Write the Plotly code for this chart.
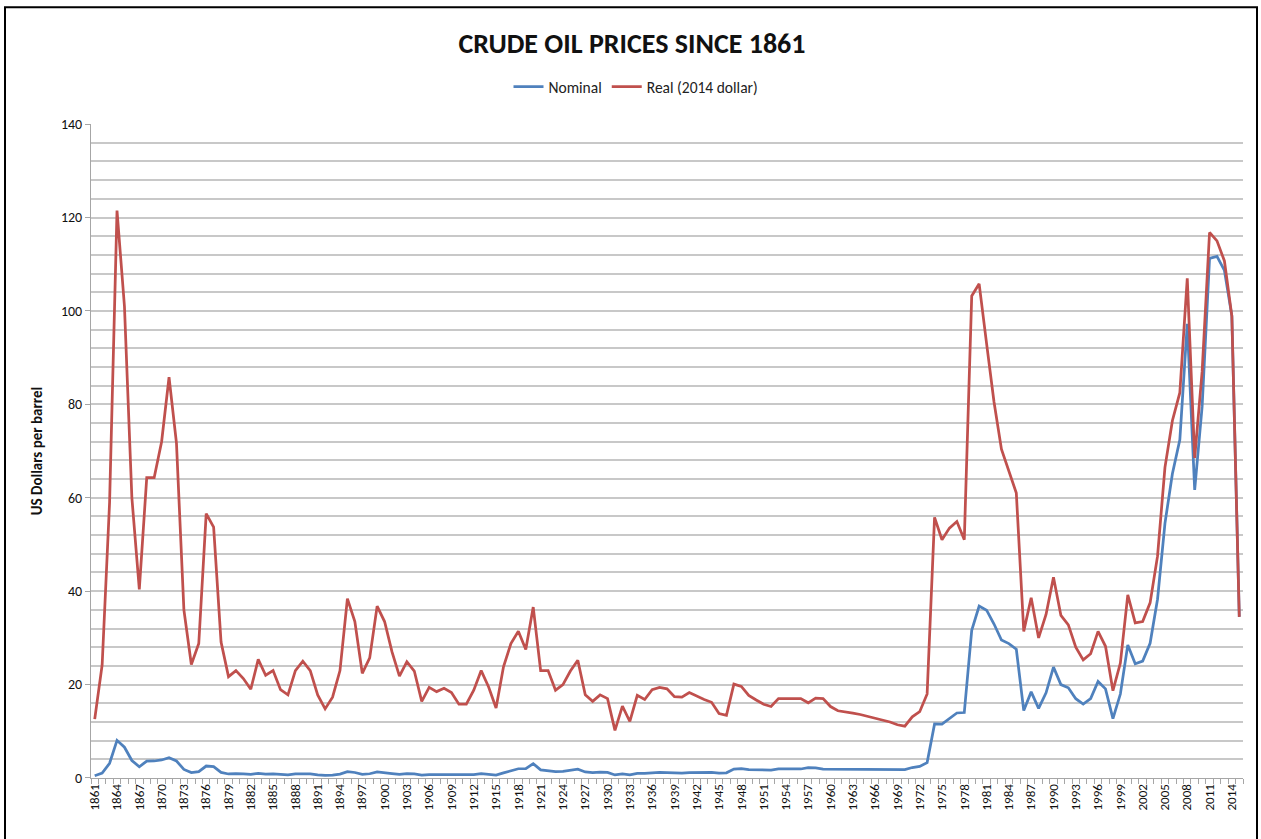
import plotly.graph_objects as go

years = list(range(1861, 2016))

nominal = [
    0.49, 1.05, 3.15, 8.06, 6.59, 3.74, 2.41, 3.63, 3.64, 3.86,   # 1861-1870
    4.34, 3.64, 1.83, 1.17, 1.35, 2.56, 2.42, 1.19, 0.86, 0.95,   # 1871-1880
    0.86, 0.78, 1.00, 0.84, 0.88, 0.71, 0.67, 0.88, 0.94, 0.87,   # 1881-1890
    0.67, 0.56, 0.64, 0.84, 1.36, 1.18, 0.79, 0.91, 1.29, 1.19,   # 1891-1900
    0.96, 0.80, 0.94, 0.86, 0.62, 0.73, 0.72, 0.72, 0.70, 0.61,   # 1901-1910
    0.61, 0.74, 0.95, 0.81, 0.64, 1.10, 1.56, 1.98, 2.01, 3.07,   # 1911-1920
    1.73, 1.61, 1.34, 1.43, 1.68, 1.88, 1.30, 1.17, 1.27, 1.19,   # 1921-1930
    0.65, 0.87, 0.67, 1.00, 0.97, 1.09, 1.18, 1.13, 1.02, 1.02,   # 1931-1940
    1.14, 1.19, 1.20, 1.21, 1.05, 1.12, 1.90, 1.99, 1.78, 1.71,   # 1941-1950
    1.71, 1.71, 1.93, 1.93, 1.93, 1.93, 2.20, 2.15, 1.90, 1.90,   # 1951-1960
    1.80, 1.80, 1.80, 1.80, 1.80, 1.80, 1.80, 1.80, 1.80, 1.80,   # 1961-1970
    2.24, 2.48, 3.29, 11.58, 11.53, 12.80, 13.92, 14.02, 31.61, 36.83,  # 1971-1980
    35.93, 32.97, 29.55, 28.78, 27.56, 14.43, 18.44, 14.92, 18.23, 23.73,  # 1981-1990
    20.00, 19.32, 16.97, 15.82, 17.02, 20.67, 19.09, 12.72, 17.97, 28.50,  # 1991-2000
    24.44, 25.02, 28.83, 38.27, 54.52, 65.14, 72.39, 97.26, 61.67, 79.50,  # 2001-2010
    111.26, 111.67, 108.66, 98.95, 34.5,                                  # 2011-2015
]

real = [
    12.6, 24.2, 59.0, 121.5, 101.0, 60.0, 40.4, 64.3, 64.3, 72.0,   # 1861-1870
    85.8, 71.7, 36.0, 24.3, 28.8, 56.6, 53.7, 29.1, 21.7, 23.0,     # 1871-1880
    21.3, 19.0, 25.4, 22.0, 23.0, 18.9, 17.8, 23.0, 25.0, 23.0,     # 1881-1890
    17.8, 14.8, 17.3, 23.0, 38.4, 33.5, 22.4, 25.7, 36.8, 33.5,     # 1891-1900
    27.0, 21.8, 24.9, 22.9, 16.4, 19.4, 18.5, 19.2, 18.3, 15.8,     # 1901-1910
    15.8, 18.8, 23.0, 19.5, 15.0, 23.8, 28.8, 31.4, 27.5, 36.6,     # 1911-1920
    23.0, 23.0, 18.8, 20.0, 22.9, 25.2, 17.8, 16.4, 17.8, 17.0,     # 1921-1930
    10.2, 15.4, 12.1, 17.7, 16.8, 18.9, 19.4, 19.1, 17.4, 17.3,     # 1931-1940
    18.3, 17.5, 16.8, 16.2, 13.8, 13.4, 20.1, 19.6, 17.7, 16.7,     # 1941-1950
    15.8, 15.3, 17.0, 17.0, 17.0, 17.0, 16.1, 17.1, 17.0, 15.3,     # 1951-1960
    14.4, 14.2, 13.9, 13.6, 13.2, 12.9, 12.5, 12.0, 11.4, 11.1,     # 1961-1970
    13.1, 14.2, 18.0, 55.8, 51.0, 53.5, 54.9, 51.0, 103.2, 105.8,   # 1971-1980
    93.0, 80.5, 70.4, 65.7, 61.0, 31.4, 38.6, 30.0, 35.0, 43.0,     # 1981-1990
    34.8, 32.8, 28.0, 25.3, 26.6, 31.4, 28.2, 18.7, 24.6, 39.2,     # 1991-2000
    33.2, 33.5, 37.5, 47.5, 66.5, 76.5, 82.5, 107.0, 68.5, 87.0,    # 2001-2010
    116.8, 115.0, 110.7, 98.9, 34.5,                                # 2011-2015
]

tick_years = list(range(1861, 2015, 3))
tick_labels = [str(y) for y in tick_years]

BLUE = "#4F81BD"
RED = "#C0504D"
FONT = "Carlito, Lato, 'Open Sans', sans-serif"

fig = go.Figure()
fig.add_trace(go.Scatter(x=years, y=nominal, mode="lines", name="Nominal",
                         line=dict(color=BLUE, width=2.75)))
fig.add_trace(go.Scatter(x=years, y=real, mode="lines", name="Real (2014 dollar)",
                         line=dict(color=RED, width=2.75)))

W, H = 1261, 839
L, R, T, B = 91, 18, 123, 61
pw, ph = W - L - R, H - T - B

def px_x(p):
    return (p - L) / pw

def px_y(p):
    return (H - B - p) / ph

fig.update_layout(
    width=W, height=H,
    margin=dict(l=L, r=R, t=T, b=B, pad=0),
    paper_bgcolor="white", plot_bgcolor="white",
    font=dict(family=FONT, color="#1a1a1a", size=12),
    title=dict(text="<b>CRUDE OIL PRICES SINCE 1861</b>", x=px_x(632), xanchor="center",
               xref="paper", y=1 - 43 / H, yanchor="middle", yref="container",
               font=dict(size=28, color="#111111", family=FONT)),
    showlegend=True,
    legend=dict(orientation="h", x=px_x(636), xanchor="center", xref="paper",
                y=1 - 87 / H, yanchor="middle", yref="container",
                font=dict(size=15.5, color="#222222"), itemwidth=30,
                bgcolor="rgba(0,0,0,0)"),
    xaxis=dict(
        range=[1860.5, 2015.5], tickmode="array", tickvals=tick_years,
        ticktext=tick_labels, tickangle=-90, ticks="", showgrid=False,
        showline=True, linecolor="#a6a6a6", linewidth=1,
        tickfont=dict(size=13, color="#111111"), zeroline=False,
        minor=dict(ticks="outside", tick0=1860.5, dtick=1, ticklen=5,
                   tickcolor="#a6a6a6", showgrid=False),
    ),
    yaxis=dict(
        range=[0, 140], tick0=0, dtick=20, ticks="outside", ticklen=5,
        tickcolor="#a6a6a6", showline=True, linecolor="#a6a6a6", linewidth=1,
        showgrid=True, gridcolor="#c8c8c8", gridwidth=1.5, zeroline=False,
        tickfont=dict(size=14, color="#111111"),
        title=dict(text="<b>US Dollars per barrel</b>", standoff=14,
                   font=dict(size=15, color="#111111")),
        minor=dict(dtick=4, tick0=0, showgrid=True, gridcolor="#c8c8c8",
                   gridwidth=1.5, ticks=""),
    ),
    shapes=[dict(type="rect", xref="paper", yref="paper",
                 x0=px_x(5), x1=px_x(1257), y0=px_y(850), y1=px_y(6),
                 line=dict(color="black", width=2), fillcolor="rgba(0,0,0,0)",
                 layer="below")],
)

fig.write_html("out.html", config={"displayModeBar": False},
               post_script="document.body.style.margin='0';")
